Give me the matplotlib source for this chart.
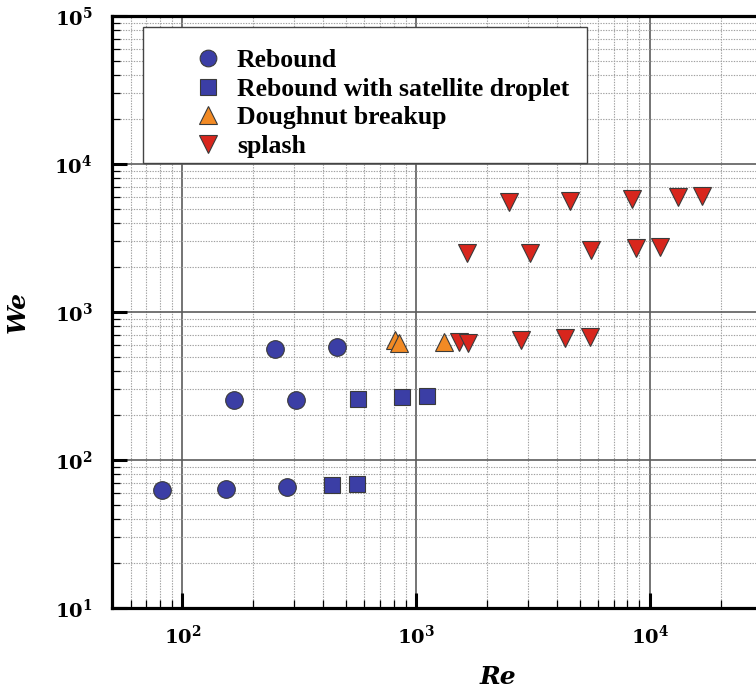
import matplotlib
matplotlib.use("Agg")
import matplotlib.pyplot as plt
from matplotlib.ticker import LogLocator, FuncFormatter, NullFormatter
from matplotlib.lines import Line2D
from matplotlib.patches import Rectangle
import numpy as np

# Impact regimes: Reynolds number (Re) vs Weber number (We)
rebound_re = [82, 153, 281, 166, 306, 250, 456]
rebound_we = [63, 64, 65.5, 254, 254, 562, 577]

satellite_re = [436, 556, 561, 873, 1107]
satellite_we = [68, 68.5, 259, 268, 272]

doughnut_re = [813, 845, 1318]
doughnut_we = [647, 614, 630]

splash_re = [2495, 4550, 8390, 13200, 16600,
             1656, 3062, 5570, 8730, 10970,
             1524, 1670, 2812, 4345, 5520]
splash_we = [5560, 5650, 5770, 6010, 6080,
             2496, 2517, 2626, 2690, 2760,
             630, 614, 647, 670, 681]

labels = ["Rebound", "Rebound with satellite droplet", "Doughnut breakup", "splash"]
x_tick_exponents = [2, 3, 4]
y_tick_exponents = [1, 2, 3, 4, 5]

BLUE = "#3b3ea5"
ORANGE = "#f28a24"
RED = "#d8261d"
EDGE = "#3a3a3a"

plt.rcParams["mathtext.fontset"] = "dejavuserif"

W, H = 756, 690
fig = plt.figure(figsize=(W / 100, H / 100), dpi=100)
fig.patch.set_facecolor("white")

# axes extends past the right edge of the canvas
ax = fig.add_axes([112 / W, 82 / H, 772 / W, 592 / H])
ax.set_xscale("log")
ax.set_yscale("log")
ax.set_xlim(50, 1e5)
ax.set_ylim(10, 1e5)

common = dict(linestyle="none", markeredgecolor=EDGE, markeredgewidth=0.8, zorder=5)
ax.plot(rebound_re, rebound_we, marker="o", markersize=12.7, markerfacecolor=BLUE, **common)
ax.plot(satellite_re, satellite_we, marker="s", markersize=12.0, markerfacecolor=BLUE, **common)
ax.plot(doughnut_re, doughnut_we, marker="^", markersize=13.5, markerfacecolor=ORANGE, **common)
ax.plot(splash_re, splash_we, marker="v", markersize=13.5, markerfacecolor=RED, **common)


def decade_label(exponents):
    def fmt(v, pos):
        e = int(round(np.log10(v)))
        return r"$\mathbf{10^{%d}}$" % e if e in exponents else ""
    return FuncFormatter(fmt)


# ticks and grid
for axis, exps in ((ax.xaxis, x_tick_exponents), (ax.yaxis, y_tick_exponents)):
    axis.set_major_locator(LogLocator(base=10, numticks=10))
    axis.set_minor_locator(LogLocator(base=10, subs=np.arange(2, 10), numticks=20))
    axis.set_minor_formatter(NullFormatter())
    axis.set_major_formatter(decade_label(exps))

ax.grid(which="major", color="#5c5c5c", linewidth=1.2, linestyle="-", zorder=1)
ax.grid(which="minor", color="#a0a0a0", linewidth=0.8, linestyle=(0, (1.2, 1.2)), zorder=1)
ax.set_axisbelow(True)

ax.tick_params(which="major", direction="in", length=11, width=2.2, labelsize=14,
               pad=12, top=False, right=False, colors="black")
ax.tick_params(which="minor", direction="in", length=5.5, width=0.9,
               top=False, right=False)
ax.tick_params(axis="y", which="major", pad=14)

for s in ax.spines.values():
    s.set_linewidth(2.3)
    s.set_color("black")

ax.set_xlabel("Re", fontsize=18, fontfamily="DejaVu Serif", fontweight="bold",
              fontstyle="italic", labelpad=12)
ax.set_ylabel("We", fontsize=18, fontfamily="DejaVu Serif", fontweight="bold",
              fontstyle="italic", labelpad=18)

# legend box
frame = Rectangle((143 / W, 1 - 163 / H), 444 / W, 136 / H, transform=fig.transFigure,
                  facecolor="white", edgecolor="#444444", linewidth=1.0,
                  zorder=6, clip_on=False)
ax.add_patch(frame)

handles = [
    Line2D([], [], marker="o", markersize=12, markerfacecolor=BLUE, **common),
    Line2D([], [], marker="s", markersize=11.5, markerfacecolor=BLUE, **common),
    Line2D([], [], marker="^", markersize=13, markerfacecolor=ORANGE, **common),
    Line2D([], [], marker="v", markersize=13, markerfacecolor=RED, **common),
]
leg = ax.legend(handles, labels, loc="upper left",
                bbox_to_anchor=(195 / W, 1 - 49 / H), bbox_transform=fig.transFigure,
                frameon=False, borderpad=0, borderaxespad=0,
                handlelength=1.0, handletextpad=0.63, labelspacing=0.22,
                prop={"family": "Liberation Serif", "weight": "bold", "size": 18.5})
leg.set_zorder(7)

fig.savefig("out.png", dpi=100, facecolor="white")
